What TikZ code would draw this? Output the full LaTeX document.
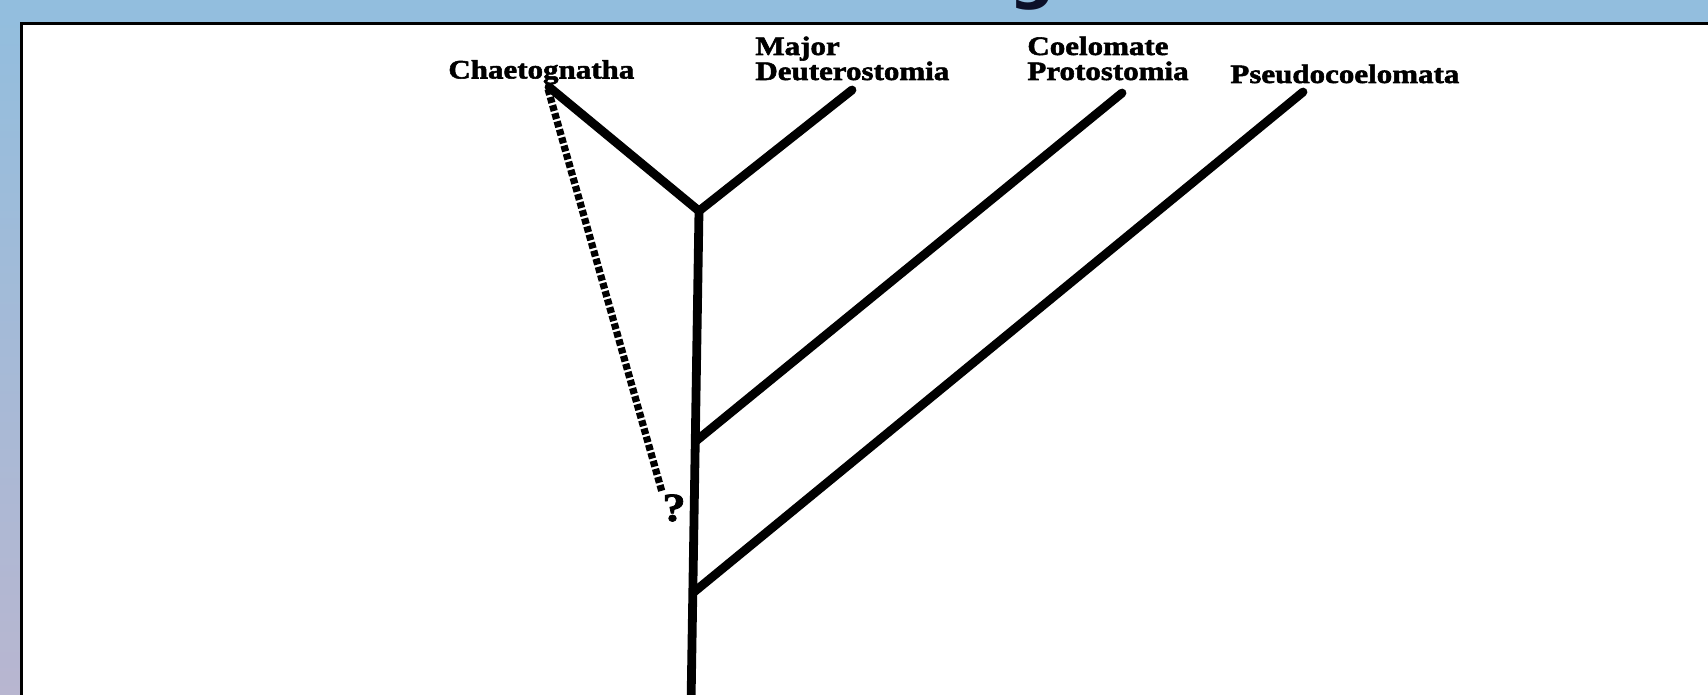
\documentclass[tikz,border=0pt]{standalone}
\usepackage{fontspec}
\newfontfamily\labfont[FakeStretch=1.165,FakeBold=2]{Liberation Serif}
\newfontfamily\titlefont{DejaVu Sans}
\definecolor{bgtop}{RGB}{146,190,222}
\definecolor{bgbot}{RGB}{184,182,208}
\definecolor{titlecol}{RGB}{12,16,40}
\begin{document}
\begin{tikzpicture}[x=0.5pt,y=-0.5pt,
  lab/.style={font=\labfont\bfseries\fontsize{13.3}{12.5}\selectfont, anchor=base west, inner sep=0pt, align=left},
  branch/.style={line width=4.4pt, line cap=round, line join=round},
  dotline/.style={line width=3.6pt, dash pattern=on 3pt off 1.2pt},
  frame/.style={line width=1.75pt}]
\useasboundingbox (0,0) rectangle (1708,695);
% background
\shade[top color=bgtop, bottom color=bgbot] (0,0) rectangle (1708,695);
\node[font=\titlefont\bfseries\fontsize{32}{36}\selectfont, anchor=base, inner sep=0pt, text=titlecol] (title) at (1032,-3) {g};
% white panel with frame
\fill[white] (21.5,23.5) rectangle (1720,720);
\draw[frame] (21.5,720) -- (21.5,23.5) -- (1720,23.5);
% tree points
\coordinate (root) at (691,705);
\coordinate (jP) at (694,592);
\coordinate (jC) at (696,441);
\coordinate (fork) at (699,211);
\coordinate (tChaet) at (549,87);
\coordinate (tDeut) at (852,90);
\coordinate (tCoel) at (1122,93);
\coordinate (tPseudo) at (1303,92);
\coordinate (dStart) at (548,89);
\coordinate (dEnd) at (662,492);
% labels
\node[lab] (chaet) at (448,78.5) {Chaetognatha};
\node[lab] (deut) at (755,80) {Major\\Deuterostomia};
\node[lab] (coel) at (1027,80) {Coelomate\\Protostomia};
\node[lab] (pseudo) at (1230,83) {Pseudocoelomata};
\node[font=\labfont\bfseries\fontsize{20}{24}\selectfont, inner sep=0pt] (q) at (674,508) {?};
% branches
\draw[branch, line cap=butt] (root) -- (fork);
\draw[branch] (fork) -- (tChaet);
\draw[branch] (fork) -- (tDeut);
\draw[branch] (jC) -- (tCoel);
\draw[branch] (jP) -- (tPseudo);
\draw[dotline] (dStart) -- (dEnd);
\end{tikzpicture}
\end{document}
